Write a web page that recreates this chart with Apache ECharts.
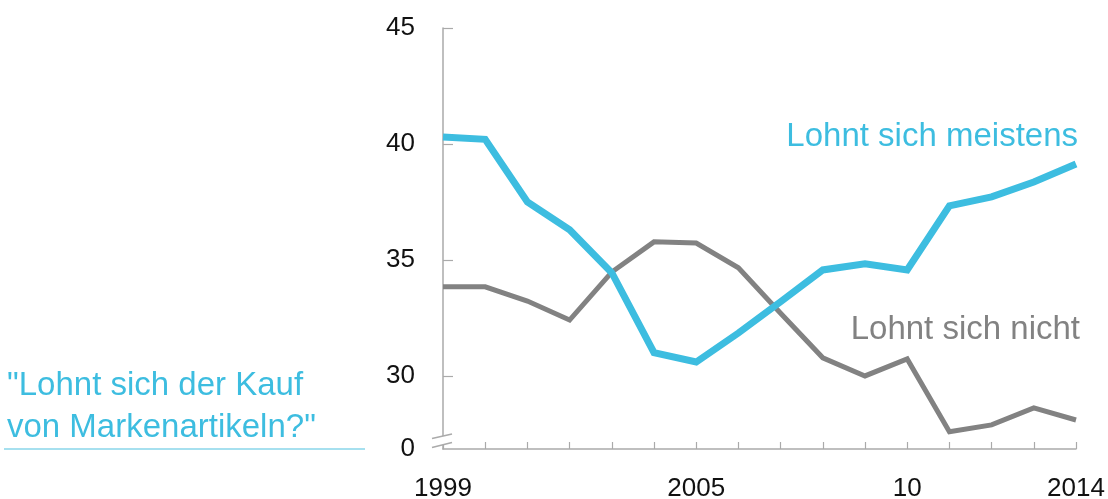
<!DOCTYPE html>
<html>
<head>
<meta charset="utf-8">
<script src="https://cdn.jsdelivr.net/npm/echarts@6/dist/echarts.min.js"></script>
<style>
html,body{margin:0;padding:0;background:#fff;}
#c{width:1108px;height:499px;}
</style>
</head>
<body>
<div id="c"></div>
<script>
const years = [1999,2000,2001,2002,2003,2004,2005,2006,2007,2008,2009,2010,2011,2012,2013,2014];
const meistens = [40.3,40.2,37.5,36.3,34.45,31.0,30.6,31.85,33.2,34.57,34.83,34.57,37.33,37.72,38.36,39.14];
const nicht = [33.84,33.84,33.23,32.41,34.48,35.78,35.73,34.66,32.7,30.78,30.0,30.73,27.59,27.89,28.62,28.1];
const yTickValues = [30,35,40,45];
const yBreakValue = 26.85;   // bottom of the broken axis, labelled "0"
const yBreakLabel = '0';
const xTickLabels = {1999:'1999', 2005:'2005', 2010:'10', 2014:'2014'};
const seriesNames = ['Lohnt sich meistens','Lohnt sich nicht'];
const titleText = '"Lohnt sich der Kauf\nvon Markenartikeln?"';

const BLUE = '#3dbde0';
const GRAY = '#828282';
const AXIS = '#aaaaaa';
const FONT = '"Liberation Sans", Arial, sans-serif';

const chart = echarts.init(document.getElementById('c'), null, {renderer:'canvas'});
const option = {
  animation:false,
  backgroundColor:'#fff',
  grid:{left:443, right:32, top:28, bottom:50, containLabel:false, outerBoundsMode:'none'},
  xAxis:{
    type:'value', min:1999, max:2014, interval:1,
    axisLine:{lineStyle:{color:AXIS, width:1.5}},
    axisTick:{inside:true, length:7, lineStyle:{color:AXIS, width:1.2}},
    splitLine:{show:false},
    axisLabel:{
      color:'#111', fontSize:26, fontFamily:FONT, margin:27,
      formatter:v => xTickLabels[v] || ''
    }
  },
  yAxis:{
    type:'value', min:yBreakValue, max:45,
    axisLine:{show:true, lineStyle:{color:AXIS, width:1.5}},
    axisTick:{show:true, inside:true, length:10, customValues:yTickValues, lineStyle:{color:AXIS, width:1.2}},
    splitLine:{show:false},
    axisLabel:{
      color:'#111', fontSize:26, fontFamily:FONT, margin:28,
      customValues:[yBreakValue].concat(yTickValues),
      formatter:v => (Math.abs(v - yBreakValue) < 0.01 ? yBreakLabel : String(v))
    }
  },
  series:[
    {name:seriesNames[1], type:'line', data:years.map((y,i)=>[y,nicht[i]]),
     showSymbol:false, symbol:'none', lineStyle:{color:GRAY, width:5, join:'miter'}, z:2},
    {name:seriesNames[0], type:'line', data:years.map((y,i)=>[y,meistens[i]]),
     showSymbol:false, symbol:'none', lineStyle:{color:BLUE, width:7, join:'miter'}, z:3}
  ]
};
chart.setOption(option);

const o = chart.convertToPixel({gridIndex:0}, [1999, yBreakValue]);
const ox = o[0], oy = o[1];
chart.setOption({
  graphic:[
    {type:'rect', shape:{x:ox-3, y:oy-13, width:6, height:9}, style:{fill:'#fff'}, z:10},
    {type:'line', shape:{x1:ox-11, y1:oy-10.5, x2:ox+9, y2:oy-15}, style:{stroke:AXIS, lineWidth:1.5}, z:11},
    {type:'line', shape:{x1:ox-11, y1:oy-1.5, x2:ox+9, y2:oy-6.5}, style:{stroke:AXIS, lineWidth:1.5}, z:11},
    {type:'text', right:30, top:120, style:{text:seriesNames[0], fill:BLUE, font:'33px '+FONT}, z:12},
    {type:'text', right:28, top:313, style:{text:seriesNames[1], fill:GRAY, font:'33px '+FONT}, z:12},
    {type:'text', left:7, top:365, style:{text:titleText, fill:BLUE, font:'33px '+FONT, lineHeight:42}, z:12},
    {type:'line', shape:{x1:4, y1:449, x2:365, y2:449}, style:{stroke:'#4fc1e0', lineWidth:1.2}, z:12}
  ]
});
</script>
</body>
</html>
